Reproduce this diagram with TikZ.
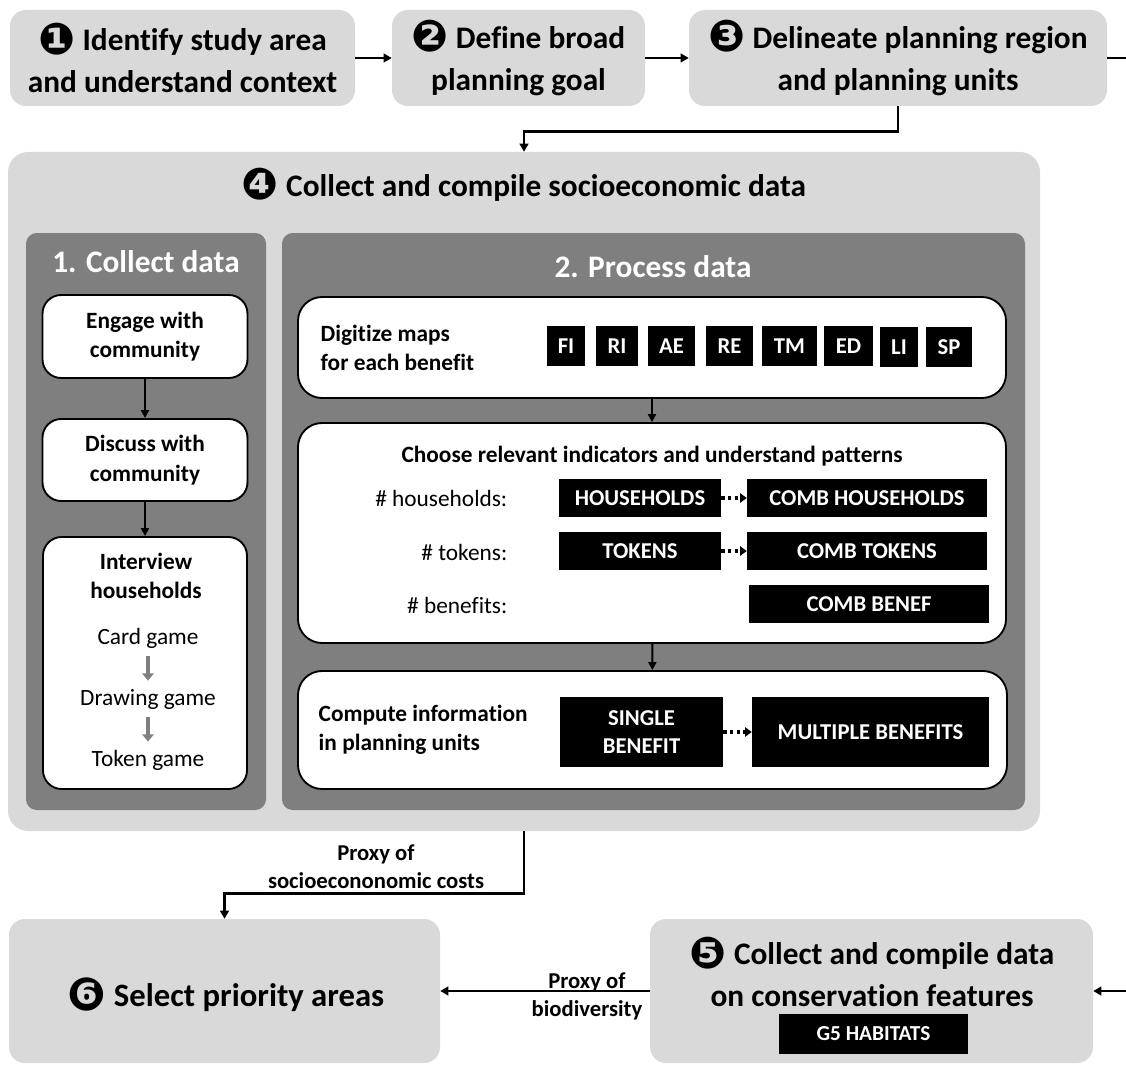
\documentclass[tikz,border=0pt]{standalone}
\usepackage{fontspec}
\setmainfont{Carlito}[Ligatures=NoCommon]
\newfontfamily\dingfont[Scale=1.4]{DejaVu Sans}
\usetikzlibrary{arrows.meta}
\definecolor{stagegray}{HTML}{D9D9D9}
\definecolor{panelgray}{HTML}{7F7F7F}
\definecolor{hintgray}{HTML}{808080}
\newcommand\circnum[1]{{\dingfont\raisebox{-0.08em}{#1}}}
\newcommand\fsz[2]{\fontsize{#1}{#2}\selectfont}

\begin{document}
\begin{tikzpicture}[x=0.75pt,y=-0.75pt,
  sz/.style 2 args={minimum width=#1*0.75pt, minimum height=#2*0.75pt},
  stage/.style={fill=stagegray, rounded corners=12pt, inner sep=0pt, align=center,
    font=\bfseries\fsz{23.5}{31.5}},
  panel/.style={fill=panelgray, rounded corners=8pt, inner sep=0pt},
  paneltitle/.style={text=white, font=\bfseries\fsz{23.5}{28}},
  step box/.style={fill=white, draw=black, line width=1.4pt, rounded corners=14pt,
    inner sep=0pt, align=center, font=\bfseries\fsz{17.5}{22}},
  tag/.style={fill=black, text=white, inner sep=0pt, align=center,
    font=\bfseries\fsz{17}{20.5}},
  normaltext/.style={font=\fsz{17.5}{21}},
  strongtext/.style={font=\bfseries\fsz{17.5}{21.5}},
  flowlabel/.style={font=\bfseries\fsz{17}{21}, align=center},
  flow/.style={line width=2pt, -{Triangle[length=6pt,width=6.5pt]}},
  inner flow/.style={line width=1.5pt, -{Triangle[length=6pt,width=6pt]}},
  hint/.style={draw=hintgray, line width=2.4pt, shorten <=5pt, shorten >=5pt,
    -{Triangle[length=5.5pt,width=8.5pt]}},
  dots/.style={line width=2.5pt, dash pattern=on 2.5pt off 2.5pt,
    -{Triangle[length=5pt,width=7pt]}},
]
\useasboundingbox (0,0) rectangle (1126,1066);

% ---- top row of stages ----
\node[stage, sz={345}{96}] (s1) at (182.5,58) {\circnum{❶} Identify study area\\and understand context};
\node[stage, sz={253}{96}] (s2) at (518.5,58) {\circnum{❷} Define broad\\planning goal};
\node[stage, sz={418}{96}] (s3) at (898,58) {\circnum{❸} Delineate planning region\\and planning units};
\coordinate (exitR) at (1126,58);

% ---- stage 4: socioeconomic data ----
\node[stage, sz={1032}{679}, rounded corners=15pt] (s4) at (524,491.5) {};
\node[font=\bfseries\fsz{23.5}{28}] (t4) at (524,185) {\circnum{❹} Collect and compile socioeconomic data};

% panel 1: collect data
\node[panel, sz={240}{577}] (pc) at (146,521.5) {};
\node[paneltitle] (tc) at (146,262) {1. Collect data};
\node[step box, sz={205}{83}] (engage) at (145,336.5) {Engage with\\community};
\node[step box, sz={205}{82}] (discuss) at (145,460) {Discuss with\\community};
\node[step box, sz={204}{252}] (interview) at (145,663) {};
\node[strongtext, align=center] (itv) at (146,576) {Interview\\households};
\node[normaltext, inner sep=1pt] (card) at (148,638) {Card game};
\node[normaltext, inner sep=1pt] (drawing) at (148,699) {Drawing game};
\node[normaltext, inner sep=1pt] (token) at (148,760) {Token game};

% panel 2: process data
\node[panel, sz={743}{577}] (pp) at (653.5,521.5) {};
\node[paneltitle] (tp) at (653,267) {2. Process data};

\node[step box, sz={708}{101}, rounded corners=18pt] (digitize) at (652,347.5) {};
\node[strongtext, anchor=west, align=left] (dtx) at (316,348) {Digitize maps\\for each benefit};
\node[tag, sz={38}{40}] (fi) at (566,346) {FI};
\node[tag, sz={42}{40}] (ri) at (617,346) {RI};
\node[tag, sz={47}{40}] (ae) at (671.5,346) {AE};
\node[tag, sz={47}{40}] (re) at (729.5,346) {RE};
\node[tag, sz={55}{40}] (tm) at (789.5,346) {TM};
\node[tag, sz={49}{40}] (ed) at (848.5,346) {ED};
\node[tag, sz={38}{40}] (li) at (899,347) {LI};
\node[tag, sz={46}{40}] (sp) at (949,347) {SP};

\node[step box, sz={708}{220}, rounded corners=18pt] (choose) at (652,533) {};
\node[strongtext] (ctx) at (652,456) {Choose relevant indicators and understand patterns};
\node[normaltext, anchor=east] (lhh) at (512,498) {\# households:};
\node[normaltext, anchor=east] (ltok) at (512,552) {\# tokens:};
\node[normaltext, anchor=east] (lben) at (512,605) {\# benefits:};
\node[tag, sz={162}{38}] (hh) at (640,498) {HOUSEHOLDS};
\node[tag, sz={240}{38}] (chh) at (867,498) {COMB HOUSEHOLDS};
\node[tag, sz={162}{38}] (tok) at (640,551) {TOKENS};
\node[tag, sz={240}{38}] (ctok) at (867,551) {COMB TOKENS};
\node[tag, sz={240}{38}] (cben) at (869,604) {COMB BENEF};

\node[step box, sz={709}{118}, rounded corners=18pt] (compute) at (652.5,730) {};
\node[strongtext, anchor=west, align=left] (ptx) at (314,730) {Compute information\\in planning units};
\node[tag, sz={163}{70}, font=\bfseries\fsz{17}{20.5}] (single) at (641.5,732) {SINGLE\\BENEFIT};
\node[tag, sz={237}{70}] (multi) at (870.5,732) {MULTIPLE BENEFITS};

% ---- bottom row ----
\node[stage, sz={431}{144}] (s6) at (224.5,991) {};
\node[font=\bfseries\fsz{24.5}{30}] (t6) at (226,995) {\circnum{❻} Select priority areas};
\node[stage, sz={443}{144}] (s5) at (871.5,991) {};
\node[font=\bfseries\fsz{23.5}{31.5}, align=center] (t5) at (872,972) {\circnum{❺} Collect and compile data\\on conservation features};
\node[tag, sz={189}{40}, font=\bfseries\fsz{16}{20}] (g5) at (873.5,1034) {G5 HABITATS};
\coordinate (entryR) at (1126,991);

% ---- connectors ----
\draw[flow] (s1) -- (s2);
\draw[flow] (s2) -- (s3);
\draw[line width=2pt] (s3) -- (exitR);
\draw[flow] (s3.south) -- ++(0,25) -| (s4.north);

\draw[inner flow] (engage) -- (discuss);
\draw[inner flow] (discuss) -- (interview);
\draw[hint] (card) -- (drawing);
\draw[hint] (drawing) -- (token);

\draw[inner flow] (digitize) -- (choose);
\draw[inner flow] (choose) -- (compute);
\draw[dots] (hh) -- (chh);
\draw[dots] (tok) -- (ctok);
\draw[dots] (single) -- (multi);

\draw[flow] (s4.south) -- ++(0,62) -| (s6.north);
\node[flowlabel] (lcost) at (376,867) {Proxy of\\socioecononomic costs};

\draw[flow] (s5) -- (s6);
\node[flowlabel] (lbio) at (587,996) {Proxy of\\biodiversity};
\draw[flow] (entryR) -- (s5);
\end{tikzpicture}
\end{document}
